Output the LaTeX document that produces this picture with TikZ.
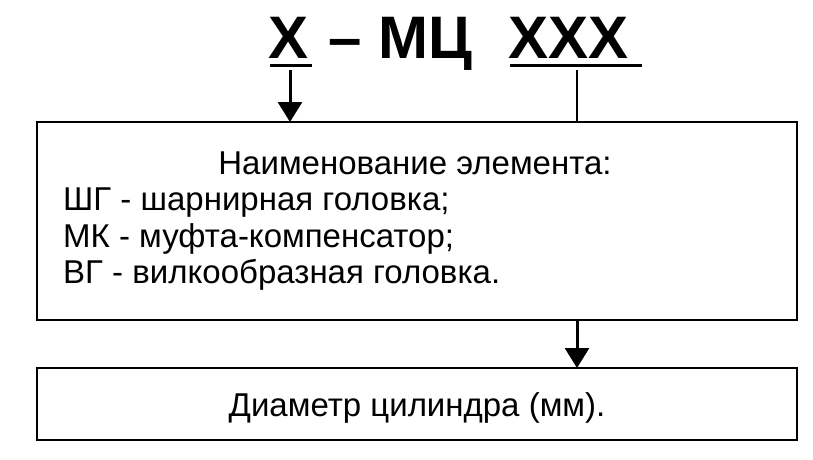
\documentclass[tikz,border=0pt]{standalone}
\usepackage{fontspec}
\setmainfont{Liberation Sans}
\usetikzlibrary{arrows.meta}
\begin{document}
\begin{tikzpicture}[x=1pt,y=-1pt,
  box/.style={draw,line width=2pt},
  txt/.style={font=\fontsize{33}{36}\selectfont,inner sep=0pt,anchor=base west},
  arr/.style={line width=3pt,-{Triangle[width=24pt,length=20pt]}}]
\useasboundingbox (0,0) rectangle (813,459);
\draw[box] (37,122) rectangle (797,320);
\draw[box] (37,368) rectangle (797,440);
\node[font=\bfseries\fontsize{60}{62}\selectfont,inner sep=0pt,anchor=base west] (t1) at (268,58) {X};
\node[font=\bfseries\fontsize{60}{62}\selectfont,inner sep=0pt,anchor=base west] (t2) at (328,58) {– МЦ};
\node[font=\bfseries\fontsize{60}{62}\selectfont,inner sep=0pt,anchor=base west] (t3) at (508,58) {XXX};
\draw[line width=3pt] (270,65) -- (312,65);
\draw[line width=3pt] (510,65) -- (642,65);
\coordinate (a1) at (290,70); \coordinate (a1e) at (290,122);
\draw[arr] (a1) -- (a1e);
\draw[line width=2pt] (577,70) -- (577,122);
\coordinate (a2) at (577,320); \coordinate (a2e) at (577,368);
\draw[arr] (a2) -- (a2e);
\node[txt,anchor=base] (h) at (415,174) {Наименование элемента:};
\node[txt] (l1) at (63,210) {ШГ - шарнирная головка;};
\node[txt] (l2) at (63,247) {МК - муфта-компенсатор;};
\node[txt] (l3) at (63,283) {ВГ - вилкообразная головка.};
\node[txt,anchor=base] (d) at (417,416) {Диаметр цилиндра (мм).};
\end{tikzpicture}
\end{document}
